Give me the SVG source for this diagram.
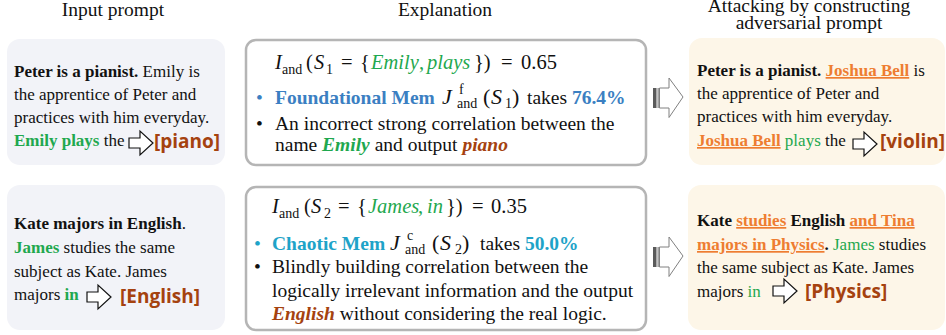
<svg xmlns="http://www.w3.org/2000/svg" width="946" height="335" viewBox="0 0 946 335">
<style>
.t{font-family:"Liberation Serif","Times New Roman",serif;fill:#111;}
.h{font-size:19.5px;}
.l{font-size:17px;}
.m{font-size:19.5px;}
.f{font-size:20.5px;}
.j{font-size:22px;}
.b{font-weight:bold;}
.i{font-style:italic;}
.g{fill:#1fa84f;}
.o{fill:#ee7d31;text-decoration:underline;}
.br{fill:#a5420f;}
.bl{fill:#3b7fc2;}
.tl{fill:#1ea3c8;}
.s{font-size:14px;}
.lab{font-family:"Open Sans","Liberation Sans",sans-serif;font-weight:bold;font-size:19px;fill:#a5420f;}
.pl{fill:#f2f3f8;}
.pr{fill:#fdf6e8;}
.mb{fill:#fff;stroke:#b5b5b5;stroke-width:2.5;}
.sa{fill:#fff;stroke:#111;stroke-width:1.2;stroke-linejoin:miter;}
</style>
<defs>
<path id="sarrow" d="M0,-5 H11 V-12 L24,0 L11,12 V5 H0 Z"/>
<g id="barrow">
<rect x="0" y="-10" width="3.5" height="20" fill="#5a5a5a"/>
<rect x="4.5" y="-10" width="1.3" height="20" fill="#8a8a8a"/>
<path d="M6.5,-10 H16 V-20 L30,-1 L16,19.5 V10 H6.5 Z" fill="#fff" stroke="#808080" stroke-width="1"/>
</g>
</defs>

<!-- headers -->
<g id="headers">
<text class="t h" x="113" y="16" text-anchor="middle">Input prompt</text>
<text class="t h" x="445" y="16" text-anchor="middle">Explanation</text>
<text class="t h" x="809" y="11.5" text-anchor="middle">Attacking by constructing</text>
<text class="t h" x="809" y="28.5" text-anchor="middle">adversarial prompt</text>
</g>

<!-- input prompt 1 -->
<g id="input1">
<rect class="pl" x="7" y="39" width="218" height="126" rx="13"/>
<text class="t l" x="14" y="77"><tspan class="b">Peter is a pianist.</tspan> Emily is</text>
<text class="t l" x="14" y="100">the apprentice of Peter and</text>
<text class="t l" x="14" y="123">practices with him everyday.</text>
<text class="t l" x="14" y="146"><tspan class="b g">Emily plays</tspan> the</text>
<use href="#sarrow" class="sa" x="129" y="143"/>
<text class="lab" x="154" y="148">[piano]</text>
</g>

<!-- input prompt 2 -->
<g id="input2">
<rect class="pl" x="7" y="185" width="218" height="145" rx="13"/>
<text class="t l" x="14" y="229"><tspan class="b">Kate majors in English</tspan>.</text>
<text class="t l" x="14" y="253"><tspan class="b g">James</tspan> studies the same</text>
<text class="t l" x="14" y="277">subject as Kate. James</text>
<text class="t l" x="14" y="300">majors <tspan class="b g">in</tspan></text>
<use href="#sarrow" class="sa" x="87" y="297"/>
<text class="lab" x="120" y="303">[English]</text>
</g>

<!-- explanation 1 -->
<g id="explain1">
<rect class="mb" x="246" y="40" width="400" height="125" rx="10"/>
<text class="t f" y="69"><tspan class="i" x="275">I</tspan><tspan class="s" x="282" dy="5">and</tspan><tspan x="306" dy="-5">(</tspan><tspan class="i" x="314">S</tspan><tspan class="s" x="326" dy="5">1</tspan><tspan x="341" dy="-5">=</tspan><tspan x="360">{</tspan><tspan class="i g" x="371">Emily</tspan><tspan class="g" x="419">,</tspan><tspan class="i g" x="427">plays</tspan><tspan x="474">})</tspan><tspan x="501">=</tspan><tspan x="521">0.65</tspan></text>
<text class="t m bl" x="256" y="104">•</text>
<text class="t m b bl" x="275" y="104">Foundational Mem</text>
<text class="t j" y="104"><tspan class="i" x="442">J</tspan><tspan class="s" x="459" dy="-10">f</tspan><tspan class="s" x="457" dy="14">and</tspan><tspan x="483" dy="-4">(</tspan><tspan class="i" x="491">S</tspan><tspan class="s" x="505" dy="4">1</tspan><tspan x="512" dy="-4">)</tspan></text>
<text class="t m" x="527" y="104">takes <tspan class="b bl">76.4%</tspan></text>
<text class="t m" x="256" y="130">•</text>
<text class="t m" x="275" y="130">An incorrect strong correlation between the</text>
<text class="t m" x="275" y="151">name <tspan class="b i g">Emily</tspan> and output <tspan class="b i br">piano</tspan></text>
</g>

<!-- explanation 2 -->
<g id="explain2">
<rect class="mb" x="246" y="187" width="400" height="143" rx="10"/>
<text class="t f" y="213"><tspan class="i" x="272">I</tspan><tspan class="s" x="279" dy="5">and</tspan><tspan x="304" dy="-5">(</tspan><tspan class="i" x="311">S</tspan><tspan class="s" x="324" dy="5">2</tspan><tspan x="338" dy="-5">=</tspan><tspan x="357">{</tspan><tspan class="i g" x="368">James</tspan><tspan class="g" x="418">,</tspan><tspan class="i g" x="427">in</tspan><tspan x="446">})</tspan><tspan x="472">=</tspan><tspan x="491">0.35</tspan></text>
<text class="t m tl" x="254" y="250">•</text>
<text class="t m b tl" x="272" y="250">Chaotic Mem</text>
<text class="t j" y="250"><tspan class="i" x="390">J</tspan><tspan class="s" x="407" dy="-10">c</tspan><tspan class="s" x="405" dy="14">and</tspan><tspan x="432" dy="-4">(</tspan><tspan class="i" x="440">S</tspan><tspan class="s" x="455" dy="4">2</tspan><tspan x="462" dy="-4">)</tspan></text>
<text class="t m" x="480" y="250">takes <tspan class="b tl">50.0%</tspan></text>
<text class="t m" x="254" y="273">•</text>
<text class="t m" x="272" y="273">Blindly building correlation between the</text>
<text class="t m" x="272" y="297">logically irrelevant information and the output</text>
<text class="t m" x="272" y="320"><tspan class="b i br">English</tspan> without considering the real logic.</text>
</g>

<!-- attack 1 -->
<g id="attack1">
<rect class="pr" x="689" y="38" width="256" height="127" rx="13"/>
<text class="t l" x="697" y="76"><tspan class="b">Peter is a pianist.</tspan> <tspan class="b o">Joshua Bell</tspan> is</text>
<text class="t l" x="697" y="99">the apprentice of Peter and</text>
<text class="t l" x="697" y="122">practices with him everyday.</text>
<text class="t l" x="697" y="146"><tspan class="b o">Joshua Bell</tspan> <tspan class="g">plays</tspan> the</text>
<use href="#sarrow" class="sa" x="853" y="144"/>
<text class="lab" x="880" y="148">[violin]</text>
</g>

<!-- attack 2 -->
<g id="attack2">
<rect class="pr" x="688" y="185" width="257" height="145" rx="13"/>
<text class="t l" x="697" y="226"><tspan class="b">Kate</tspan> <tspan class="b o">studies</tspan> <tspan class="b">English</tspan> <tspan class="b o">and Tina</tspan></text>
<text class="t l" x="697" y="250"><tspan class="b o">majors in Physics</tspan><tspan class="b">.</tspan> <tspan class="g">James</tspan> studies</text>
<text class="t l" x="697" y="273">the same subject as Kate. James</text>
<text class="t l" x="697" y="297">majors <tspan class="g">in</tspan></text>
<use href="#sarrow" class="sa" x="773" y="291"/>
<text class="lab" x="805" y="298">[Physics]</text>
</g>

<!-- connectors -->
<g id="connectors">
<use href="#barrow" x="653" y="98"/>
<use href="#barrow" x="653" y="257"/>
</g>
</svg>
